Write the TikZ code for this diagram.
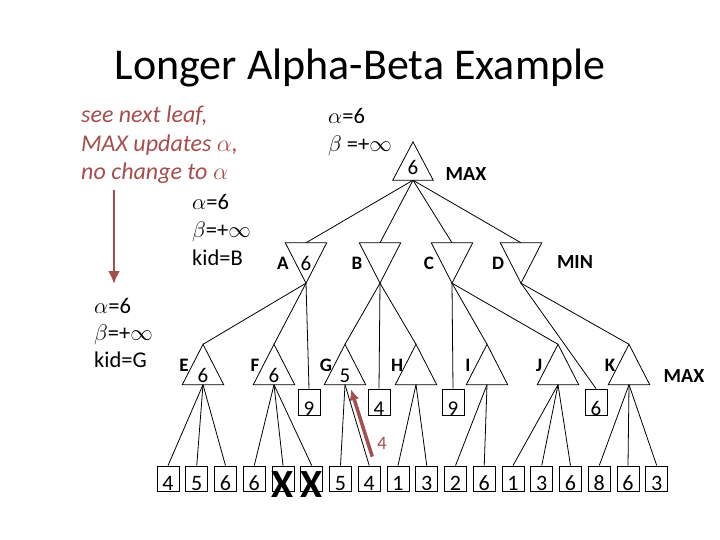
\documentclass[tikz,border=0pt]{standalone}
\usepackage{fix-cm}
\usepackage{fontspec}
\setmainfont{Carlito}
\usetikzlibrary{arrows.meta,calc}
\definecolor{annot}{RGB}{165,78,78}

\newcommand{\bigX}{\smash{\raisebox{-7pt}{\fontsize{40}{40}\selectfont\bfseries X}}}

\begin{document}
\begin{tikzpicture}[x=1pt, y=-1pt,
  tri/.style={inner sep=0pt, minimum width=41pt, minimum height=40pt, font=\fontsize{21}{21}\selectfont},
  maxtri/.style={tri, text height=35pt, text depth=0pt},
  mintri/.style={tri},
  leaf/.style={draw, line width=0.8pt, inner sep=0pt, minimum width=22pt, minimum height=25pt, text height=23pt, text depth=0pt, font=\fontsize{22}{22}\selectfont},
  valbox/.style={leaf, minimum height=26pt, text height=26pt, font=\fontsize{21}{21}\selectfont},
  edge/.style={line width=0.8pt},
  tag/.style={inner sep=0pt, font=\fontsize{19}{19}\selectfont\bfseries},
  level/.style={inner sep=0pt, font=\fontsize{20}{20}\selectfont\bfseries},
  state/.style={inner sep=0pt, align=left, anchor=north west, font=\fontsize{22.5}{28}\selectfont},
  note/.style={inner sep=0pt, align=left, anchor=north west, text=annot, font=\fontsize{24}{28.5}\selectfont\itshape},
  hint/.style={-{Latex[length=13pt,width=12pt]}, line width=2.5pt, draw=annot}
]
\useasboundingbox (0,0) rectangle (720,540);

\node[font=\fontsize{44}{50}\selectfont, anchor=base] (title) at (360,80) {Longer Alpha-Beta Example};

% game tree
\node[maxtri, minimum width=40pt, minimum height=38pt, text height=28pt] (root) at (413,161) {6};
\node[mintri] (A) at (306,263) {6};
\node[mintri] (B) at (380,263) {};
\node[mintri] (C) at (452,263) {};
\node[mintri] (D) at (521,263) {};
\node[maxtri] (E) at (203,364.5) {6};
\node[maxtri] (F) at (274,364.5) {6};
\node[maxtri] (G) at (345,364.5) {5};
\node[maxtri] (H) at (416,364.5) {};
\node[maxtri] (I) at (487,364.5) {};
\node[maxtri] (J) at (558,364.5) {};
\node[maxtri] (K) at (629,364.5) {};
\node[valbox] (vA) at (309,402) {9};
\node[valbox] (vB) at (379,402) {4};
\node[valbox] (vC) at (453,402) {9};
\node[valbox] (vD) at (596,402) {6};
\foreach \v [count=\i] in {4,5,6,6,\bigX,\bigX,5,4,1,3,2,6,1,3,6,8,6,3}
  \node[leaf] (l\i) at ({168+28.75*(\i-1)},478.5) {\v};

\foreach \n in {root,E,F,G,H,I,J,K}
  \draw[edge] (\n.north) -- (\n.south west) -- (\n.south east) -- cycle;
\foreach \n in {A,B,C,D}
  \draw[edge] (\n.north west) -- (\n.north east) -- (\n.south) -- cycle;

\foreach \p/\c in {root/A,root/B,root/C,root/D,A/E,A/F,A/vA,B/G,B/vB,B/H,C/vC,C/I,C/J,D/vD,D/K,
    E/l1,E/l2,E/l3,F/l4,F/l5,F/l6,G/l7,G/l8,H/l9,H/l10,I/l11,I/l12,J/l13,J/l14,J/l15,K/l16,K/l17,K/l18}
  \draw[edge] (\p.south) -- (\c.north);

\foreach \n in {A,B,C,D}
  \node[tag] (tag\n) at ($(\n)+(-23,0.5)$) {\n};
\foreach \n in {E,F,G,H,I,J,K}
  \node[tag] (tag\n) at ($(\n)+(-19,0.5)$) {\n};

\node[level] (maxtop) at (466,174) {MAX};
\node[level] (min) at (575,262) {MIN};
\node[level] (maxlow) at (684,376) {MAX};

% alpha-beta states
\node[state] (top) at (328,108) {$\alpha$=6\\$\beta$ =+$\infty$};
\node[state] (atA) at (192,194) {$\alpha$=6\\$\beta$=+$\infty$\\kid=B};
\node[state, font=\fontsize{22.5}{27}\selectfont] (atE) at (94,298) {$\alpha$=6\\$\beta$=+$\infty$\\kid=G};

\node[note] (note) at (81,106) {see next leaf,\\MAX updates $\alpha$,\\no change to $\alpha$};
\coordinate (down0) at (114,190);
\coordinate (down1) at (114,284);
\draw[hint] (down0) -- (down1);

\coordinate (up0) at ($(l8.north)+(3,-9)$);
\coordinate (up1) at ($(G.south)+(6,4.5)$);
\draw[hint, -{Latex[length=11pt,width=10pt]}, line width=3.5pt] (up0) -- node[pos=0.2, right, xshift=4pt, text=annot, font=\fontsize{19}{19}\selectfont] (four) {4} (up1);

\end{tikzpicture}
\end{document}
